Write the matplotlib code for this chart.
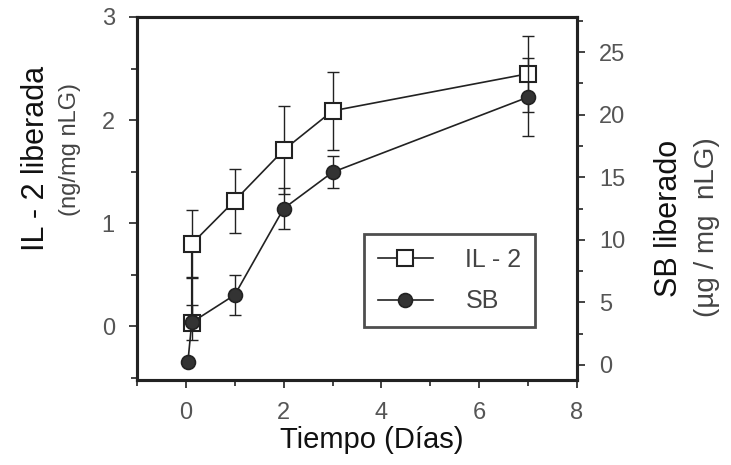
import matplotlib
matplotlib.use('Agg')
import matplotlib.pyplot as plt
from matplotlib.ticker import MultipleLocator

# release over time (days)
il2_days = [0.12, 0.12, 1, 2, 3, 7]
il2_vals = [0.03, 0.80, 1.22, 1.71, 2.09, 2.45]
il2_err_lo = [0.0, 0.33, 0.31, 0.43, 0.38, 0.37]
il2_err_hi = [0.45, 0.33, 0.31, 0.43, 0.38, 0.37]

sb_days = [0.04, 0.12, 1, 2, 3, 7]
sb_vals = [0.2, 3.4, 5.6, 12.5, 15.4, 21.4]
sb_err = [0.0, 1.4, 1.6, 1.6, 1.3, 3.1]

x_ticks = [0, 2, 4, 6, 8]
il2_ticks = [0, 1, 2, 3]
sb_ticks = [0, 5, 10, 15, 20, 25]

plt.rcParams['font.family'] = ['Liberation Sans', 'DejaVu Sans']
ink = '#222222'
tick_ink = '#555555'

fig = plt.figure(figsize=(7.31, 4.65), dpi=100)
ax = fig.add_axes([137 / 731, 1 - 380 / 465, 440 / 731, 363 / 465])
ax2 = ax.twinx()

# IL-2 on the left axis
ax.errorbar(il2_days, il2_vals, yerr=[il2_err_lo, il2_err_hi], fmt='none',
            ecolor=ink, elinewidth=1.0, capsize=4, capthick=1.0, zorder=2)
h1, = ax.plot(il2_days, il2_vals, color=ink, lw=1.2, marker='s', ms=11,
              mfc='white', mec=ink, mew=1.5, label='IL - 2', zorder=3)

# SB on the right axis
ax2.errorbar(sb_days, sb_vals, yerr=sb_err, fmt='none',
             ecolor=ink, elinewidth=1.0, capsize=4, capthick=1.0, zorder=2)
h2, = ax2.plot(sb_days, sb_vals, color=ink, lw=1.2, marker='o', ms=10,
               mfc='#333333', mec=ink, mew=1.2, label='SB', zorder=3)

ax.set_xlim(-1, 8)
ax.set_ylim(-0.52, 3.0)
ax2.set_ylim(-1.2, 27.8)

ax.set_xticks(x_ticks)
ax.xaxis.set_minor_locator(MultipleLocator(1))
ax.set_yticks(il2_ticks)
ax.yaxis.set_minor_locator(MultipleLocator(0.5))
ax2.set_yticks(sb_ticks)
ax2.yaxis.set_minor_locator(MultipleLocator(2.5))

for a in (ax, ax2):
    for s in a.spines.values():
        s.set_linewidth(2.2)
        s.set_color(ink)
    a.tick_params(which='both', direction='out', length=6, width=1.2,
                  color=ink, labelsize=17, labelcolor=tick_ink, pad=10)
    a.tick_params(which='minor', length=4)

ax.tick_params(axis='y', which='both', right=False)
ax2.tick_params(axis='y', which='both', left=False)

leg = ax2.legend(handles=[h1, h2], loc='lower right',
                 bbox_to_anchor=(0.905, 0.146), borderaxespad=0,
                 fontsize=18, frameon=True, fancybox=False,
                 handlelength=2.2, borderpad=0.55, labelspacing=0.7,
                 handletextpad=1.3)
leg.get_frame().set_edgecolor(ink)
leg.get_frame().set_linewidth(2.0)
for t in leg.get_texts():
    t.set_color('#444444')

fig.text(372 / 731, 1 - 440 / 465, 'Tiempo (Días)', fontsize=21,
         ha='center', va='center', color='#111111')
fig.text(36 / 731, 1 - 158 / 465, 'IL - 2 liberada', fontsize=22,
         rotation=90, ha='center', va='center', color='#111111')
fig.text(70 / 731, 1 - 150 / 465, '(ng/mg nLG)', fontsize=17,
         rotation=90, ha='center', va='center', color='#444444')
fig.text(669 / 731, 1 - 218 / 465, 'SB liberado', fontsize=22,
         rotation=90, ha='center', va='center', color='#111111')
fig.text(707 / 731, 1 - 227 / 465, '(µg / mg  nLG)', fontsize=20,
         rotation=90, ha='center', va='center', color='#444444')

fig.savefig('out.png', dpi=100)
plt.close(fig)
